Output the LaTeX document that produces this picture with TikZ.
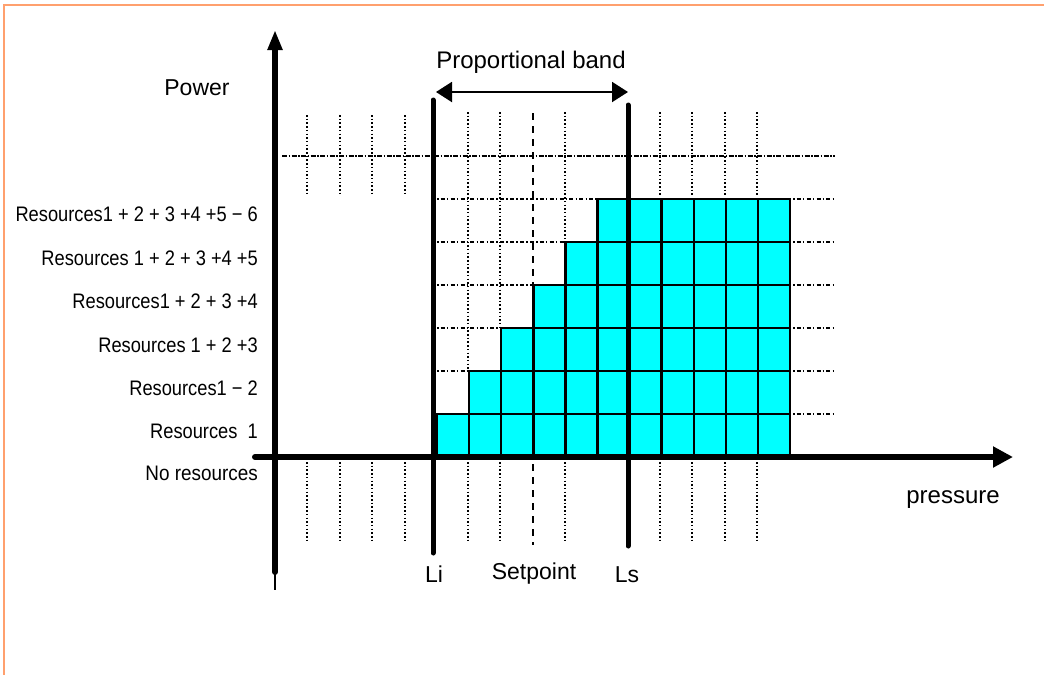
\documentclass[tikz,border=0pt]{standalone}
\usepackage{fontspec}
\usepackage{graphicx}
\setmainfont{Liberation Sans}
\usetikzlibrary{arrows.meta}
\definecolor{frameor}{RGB}{255,160,110}
\definecolor{cellcyan}{RGB}{0,255,255}
\begin{document}
\begin{tikzpicture}[x=1pt,y=-1pt,
  lbl/.style={inner sep=0pt, anchor=base, font=\fontsize{23}{27}\selectfont},
  reslbl/.style={inner sep=0pt, anchor=base east, font=\fontsize{21}{25}\selectfont},
  axisline/.style={line width=6pt, line cap=round},
  limitline/.style={line width=5pt, line cap=round},
  cellbox/.style={fill=cellcyan, draw=black, line width=2.5pt},
  gridv/.style={line width=1.4pt, dash pattern=on 1.5pt off 2.2pt},
  gridh/.style={line width=1.4pt, dash pattern=on 1.5pt off 2.2pt on 4pt off 2.2pt},
  refline/.style={line width=2pt, dash pattern=on 5pt off 1.5pt on 1.5pt off 1.5pt},
  setline/.style={line width=1.5pt, dash pattern=on 7pt off 6pt},
]
\useasboundingbox (0,0) rectangle (1044,675);
% frame
\draw[frameor, line width=2pt] (1044,5) -- (4,5) -- (4,675);

% dotted reference grid
\foreach \x in {307,340,372,405} {
  \draw[gridv] (\x,115) -- (\x,195);
  \draw[gridv] (\x,462) -- (\x,542);
}
\foreach \x/\yb in {468/371,500/328,565/242,660/197,692/197,725/197,757/197} {
  \draw[gridv] (\x,112) -- (\x,\yb);
  \draw[gridv] (\x,462) -- (\x,542);
}
\foreach \y/\xe in {199/598,242/566,285/534,328/502,371/470} {
  \draw[gridh] (437,\y) -- (\xe,\y);
}
\foreach \y in {199,242,285,328,371,414} {
  \draw[gridh] (793,\y) -- (835,\y);
}
\coordinate (refL) at (282,156);
\coordinate (refR) at (835,156);
\draw[refline] (refL) -- (refR);

% setpoint
\coordinate (spTop) at (533,113);
\coordinate (spBot) at (533,545);
\draw[setline] (spTop) -- (spBot);

% staircase of cells
\foreach \r in {1,...,6} {
  \pgfmathtruncatemacro{\s}{\r-1}
  \foreach \c in {\s,...,10} {
    \draw[cellbox] ({437+32.1*\c},{457-43*\r}) rectangle ++(32.1,43);
  }
}

% limit lines
\coordinate (LiTop) at (433,100);
\coordinate (LiBot) at (433,553);
\coordinate (LsTop) at (628,105);
\coordinate (LsBot) at (628,546);
\draw[limitline] (LiTop) -- (LiBot);
\draw[limitline] (LsTop) -- (LsBot);

% axes
\coordinate (yBot) at (275,572);
\coordinate (yTail) at (275,590);
\coordinate (yTop) at (275,30);
\coordinate (xLeft) at (255,457);
\coordinate (xRight) at (1013,457);
\draw[line width=1.5pt] (yBot) -- (yTail);
\draw[axisline, -{Triangle[length=20pt,width=14pt]}] (yBot) -- (yTop);
\draw[axisline, -{Triangle[length=20pt,width=20pt]}] (xLeft) -- (xRight);

% proportional band arrow
\coordinate (bandL) at (436,92);
\coordinate (bandR) at (628,92);
\draw[line width=2pt, {Triangle[length=16pt,width=20pt]}-{Triangle[length=16pt,width=20pt]}] (bandL) -- (bandR);

% labels
\node[lbl, font=\fontsize{24}{28}\selectfont] (band) at (531,68) {Proportional band};
\node[lbl] (power) at (197,95) {Power};
\node[lbl, font=\fontsize{24}{28}\selectfont] (press) at (953,503) {pressure};
\node[lbl] (li) at (434,582) {Li};
\node[lbl] (setp) at (534,579) {Setpoint};
\node[lbl] (ls) at (627,582) {Ls};

\node[reslbl] (r6) at (258,221) {\scalebox{0.87}[1]{Resources1 + 2 + 3 +4 +5 − 6}};
\node[reslbl] (r5) at (258,265) {\scalebox{0.87}[1]{Resources 1 + 2 + 3 +4 +5}};
\node[reslbl] (r4) at (258,308) {\scalebox{0.87}[1]{Resources1 + 2 + 3 +4}};
\node[reslbl] (r3) at (258,352) {\scalebox{0.87}[1]{Resources 1 + 2 +3}};
\node[reslbl] (r2) at (258,395) {\scalebox{0.87}[1]{Resources1 − 2}};
\node[reslbl] (r1) at (258,438) {\scalebox{0.87}[1]{Resources\ \ 1}};
\node[reslbl] (r0) at (258,480) {\scalebox{0.9}[1]{No resources}};
\end{tikzpicture}
\end{document}
